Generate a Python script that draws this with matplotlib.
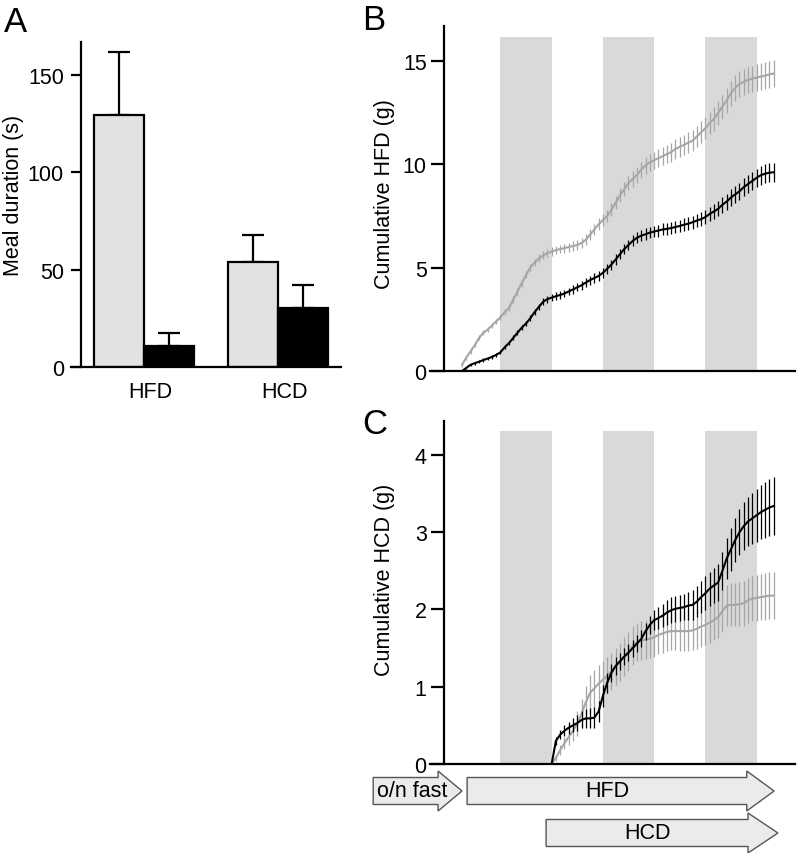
import numpy as np
import matplotlib
matplotlib.use('Agg')
import matplotlib.pyplot as plt
from matplotlib.patches import Polygon

plt.rcParams['font.family'] = ['Liberation Sans', 'DejaVu Sans']

# panel A: meal duration
groups = ['HFD', 'HCD']
light_vals = [129.5, 54]
light_err = [32.5, 14]
dark_vals = [11, 30.3]
dark_err = [6.5, 11.7]

# panel B: cumulative HFD, hourly from refeeding
hours_b = np.arange(74)
hfd_gray = [0.3, 0.65, 0.95, 1.25, 1.6, 1.85, 2.0, 2.2, 2.4, 2.6,
            2.85, 3.05, 3.45, 3.85, 4.25, 4.65, 5.0, 5.25, 5.45, 5.6,
            5.7, 5.78, 5.85, 5.9, 5.95, 6.0, 6.05, 6.1, 6.2, 6.35,
            6.6, 6.85, 7.1, 7.3, 7.5, 7.8, 8.15, 8.5, 8.8, 9.1,
            9.3, 9.5, 9.75, 9.95, 10.1, 10.2, 10.3, 10.4, 10.5, 10.6,
            10.75, 10.85, 10.95, 11.05, 11.15, 11.35, 11.55, 11.75, 12.0, 12.2,
            12.5, 12.8, 13.1, 13.45, 13.7, 13.9, 14.0, 14.1, 14.15, 14.2,
            14.25, 14.3, 14.35, 14.4]
hfd_gray_err = [0.1, 0.1, 0.11, 0.11, 0.12, 0.12, 0.13, 0.13, 0.14, 0.14,
                0.15, 0.15, 0.16, 0.16, 0.17, 0.17, 0.18, 0.18, 0.19, 0.19,
                0.2, 0.2, 0.21, 0.21, 0.22, 0.22, 0.23, 0.24, 0.25, 0.26,
                0.27, 0.28, 0.29, 0.3, 0.31, 0.32, 0.33, 0.34, 0.35, 0.36,
                0.37, 0.38, 0.39, 0.4, 0.41, 0.42, 0.43, 0.44, 0.45, 0.46,
                0.47, 0.48, 0.49, 0.5, 0.51, 0.52, 0.53, 0.54, 0.55, 0.56,
                0.57, 0.58, 0.59, 0.6, 0.61, 0.62, 0.62, 0.63, 0.63, 0.64,
                0.64, 0.65, 0.65, 0.65]
hfd_black = [0.0, 0.15, 0.3, 0.38, 0.45, 0.53, 0.6, 0.68, 0.78, 0.9,
             1.15, 1.35, 1.6, 1.85, 2.1, 2.3, 2.55, 2.85, 3.1, 3.35,
             3.48, 3.55, 3.62, 3.68, 3.75, 3.85, 3.95, 4.05, 4.15, 4.28,
             4.4, 4.5, 4.6, 4.75, 4.95, 5.15, 5.4, 5.65, 5.9, 6.1,
             6.3, 6.45, 6.55, 6.62, 6.7, 6.75, 6.8, 6.85, 6.88, 6.92,
             6.97, 7.02, 7.08, 7.13, 7.2, 7.28, 7.35, 7.45, 7.6, 7.72,
             7.85, 8.05, 8.2, 8.4, 8.55, 8.7, 8.9, 9.05, 9.2, 9.35,
             9.48, 9.55, 9.6, 9.62]
hfd_black_err = [0.03, 0.05, 0.06, 0.07, 0.07, 0.08, 0.08, 0.09, 0.09, 0.1,
                 0.1, 0.11, 0.12, 0.12, 0.13, 0.14, 0.14, 0.15, 0.16, 0.16,
                 0.17, 0.17, 0.18, 0.18, 0.19, 0.19, 0.2, 0.2, 0.21, 0.21,
                 0.22, 0.22, 0.23, 0.23, 0.24, 0.24, 0.25, 0.25, 0.26, 0.26,
                 0.27, 0.27, 0.27, 0.28, 0.28, 0.28, 0.29, 0.29, 0.29, 0.3,
                 0.3, 0.3, 0.31, 0.31, 0.32, 0.32, 0.33, 0.34, 0.35, 0.36,
                 0.37, 0.38, 0.39, 0.4, 0.41, 0.42, 0.43, 0.44, 0.45, 0.45,
                 0.46, 0.46, 0.47, 0.47]

# panel C: cumulative HCD, hourly from HCD access
hours_c = np.arange(21, 74)
hcd_gray = [0.0, 0.08, 0.18, 0.27, 0.35, 0.43, 0.52, 0.65, 0.8, 0.92,
            0.98, 1.04, 1.09, 1.14, 1.2, 1.26, 1.32, 1.39, 1.46, 1.53,
            1.58, 1.6, 1.61, 1.62, 1.64, 1.67, 1.69, 1.71, 1.72, 1.72,
            1.72, 1.72, 1.72, 1.73, 1.75, 1.78, 1.8, 1.83, 1.86, 1.9,
            1.98, 2.05, 2.06, 2.06, 2.07, 2.08, 2.12, 2.14, 2.15, 2.16,
            2.17, 2.18, 2.18]
hcd_gray_err = [0.02, 0.04, 0.06, 0.08, 0.1, 0.13, 0.16, 0.19, 0.21, 0.23,
                0.24, 0.24, 0.24, 0.24, 0.24, 0.24, 0.24, 0.25, 0.25, 0.25,
                0.25, 0.25, 0.25, 0.25, 0.25, 0.25, 0.25, 0.25, 0.25, 0.25,
                0.26, 0.26, 0.26, 0.26, 0.26, 0.26, 0.26, 0.26, 0.26, 0.27,
                0.27, 0.27, 0.28, 0.28, 0.28, 0.29, 0.29, 0.29, 0.3, 0.3,
                0.3, 0.3, 0.3]
hcd_black = [0.0, 0.3, 0.38, 0.43, 0.47, 0.5, 0.53, 0.57, 0.59, 0.59,
             0.6, 0.68, 0.88, 1.05, 1.18, 1.27, 1.33, 1.39, 1.44, 1.5,
             1.56, 1.62, 1.72, 1.8, 1.86, 1.89, 1.92, 1.96, 1.99, 2.01,
             2.02, 2.03, 2.05, 2.06, 2.1, 2.16, 2.21, 2.27, 2.31, 2.35,
             2.5, 2.66, 2.78, 2.9, 3.0, 3.08, 3.14, 3.18, 3.22, 3.26,
             3.29, 3.32, 3.34]
hcd_black_err = [0.02, 0.05, 0.06, 0.07, 0.08, 0.09, 0.1, 0.11, 0.12, 0.13,
                 0.14, 0.14, 0.14, 0.13, 0.12, 0.12, 0.11, 0.11, 0.11, 0.11,
                 0.11, 0.11, 0.11, 0.12, 0.13, 0.14, 0.15, 0.16, 0.17, 0.17,
                 0.17, 0.17, 0.18, 0.19, 0.2, 0.21, 0.22, 0.22, 0.23, 0.24,
                 0.25, 0.26, 0.28, 0.29, 0.3, 0.31, 0.32, 0.33, 0.34, 0.35,
                 0.36, 0.37, 0.38]

# dark phases (h)
dark_phases = [(9, 21), (33, 45), (57, 69)]

# feeding schedule arrows: (label, start, head base, tip, row)
schedule = [('o/n fast', -20.8, -5.6, 0.0, 0),
            ('HFD', 1.2, 66.7, 73.1, 0),
            ('HCD', 19.7, 67.0, 74.0, 1)]

W, H = 799, 854
fig = plt.figure(figsize=(W / 100, H / 100), dpi=100)

def px_axes(l, r, t, b):
    return fig.add_axes([l / W, (H - b) / H, (r - l) / W, (b - t) / H])

FS = 15.5
GRAY = '#a6a6a6'
LIGHT = '#e2e2e2'
BAND = '#d9d9d9'
LW = 1.6

# ---- A ----
axA = px_axes(71, 341, 43, 368)
xg = np.array([0, 2.70])
axA.bar(xg - 0.5, light_vals, width=1.0, color=LIGHT, edgecolor='black', lw=LW, zorder=2)
axA.bar(xg + 0.5, dark_vals, width=1.0, color='black', edgecolor='black', lw=LW, zorder=2)
axA.errorbar(xg - 0.5, light_vals, yerr=[np.zeros(2), light_err], fmt='none',
             ecolor='black', elinewidth=LW, capsize=8, capthick=LW, zorder=1)
axA.errorbar(xg + 0.5, dark_vals, yerr=[np.zeros(2), dark_err], fmt='none',
             ecolor='black', elinewidth=LW, capsize=8, capthick=LW, zorder=1)
axA.set_xlim(-1.47, 3.97)
axA.set_ylim(0, 167)
axA.spines['left'].set_position(('data', -1.27))
axA.set_yticks([0, 50, 100, 150])
axA.set_xticks(xg + 0.13)
axA.set_xticklabels(groups)
axA.tick_params(axis='x', length=0, pad=10, labelsize=FS)
axA.tick_params(axis='y', length=7.2, width=LW, pad=5, labelsize=FS)
axA.set_ylabel('Meal duration (s)', fontsize=FS)
axA.yaxis.set_label_coords(-0.175, 0.53)

def style_time_axes(ax, ymax, band_top, yticks, ylabel, label_y):
    for a, b in dark_phases:
        ax.axvspan(a, b, ymin=0, ymax=band_top / ymax, color=BAND, lw=0, zorder=0)
    ax.set_xlim(-7.49, 78.0)
    ax.set_ylim(0, ymax)
    ax.spines['left'].set_position(('data', -4.2))
    ax.set_xticks([])
    ax.set_yticks(yticks)
    ax.tick_params(axis='y', length=9.5, width=LW, pad=3, labelsize=FS)
    ax.set_ylabel(ylabel, fontsize=FS)
    ax.yaxis.set_label_coords(-0.097, label_y)

for ax in [axA]:
    for s in ['top', 'right']:
        ax.spines[s].set_visible(False)
    for s in ['left', 'bottom']:
        ax.spines[s].set_linewidth(LW)

# ---- B ----
axB = px_axes(430, 795, 27, 372)
style_time_axes(axB, 16.7, 16.16, [0, 5, 10, 15], 'Cumulative HFD (g)', 0.517)
axB.errorbar(hours_b, hfd_gray, yerr=hfd_gray_err, color=GRAY, lw=1.5,
             elinewidth=0.9, capsize=0, zorder=2)
axB.errorbar(hours_b, hfd_black, yerr=hfd_black_err, color='black', lw=1.5,
             elinewidth=0.9, capsize=0, zorder=3)

# ---- C ----
axC = px_axes(430, 795, 422, 765)
style_time_axes(axC, 4.44, 4.31, [0, 1, 2, 3, 4], 'Cumulative HCD (g)', 0.539)
axC.errorbar(hours_c, hcd_gray, yerr=hcd_gray_err, color=GRAY, lw=1.5,
             elinewidth=0.9, capsize=0, zorder=2)
axC.errorbar(hours_c, hcd_black, yerr=hcd_black_err, color='black', lw=1.5,
             elinewidth=0.9, capsize=0, zorder=3)

for ax in [axB, axC]:
    for s in ['top', 'right']:
        ax.spines[s].set_visible(False)
    for s in ['left', 'bottom']:
        ax.spines[s].set_linewidth(LW)

# ---- schedule arrows ----
axS = px_axes(430, 795, 770, 854)
axS.set_xlim(-7.49, 78.0)
axS.set_ylim(854, 770)
axS.axis('off')
row_y = [792, 834]
for label, x0, xb, x1, row in schedule:
    yc = row_y[row]
    h, hh = 13.5, 20
    pts = [(x0, yc - h), (xb, yc - h), (xb, yc - hh), (x1, yc),
           (xb, yc + hh), (xb, yc + h), (x0, yc + h)]
    axS.add_patch(Polygon(pts, closed=True, facecolor='#ebebeb', edgecolor='#555555',
                          lw=1.0, clip_on=False))
    axS.text((x0 + xb) / 2 if label != 'o/n fast' else (x0 + x1) / 2 - 1.3, yc,
             label, ha='center', va='center', fontsize=FS, clip_on=False)

# panel letters
for letter, x, y in [('A', 4, 6), ('B', 362, 4), ('C', 362, 408)]:
    fig.text(x / W, 1 - y / H, letter, fontsize=25, ha='left', va='top')

fig.savefig('out.png', dpi=100)
